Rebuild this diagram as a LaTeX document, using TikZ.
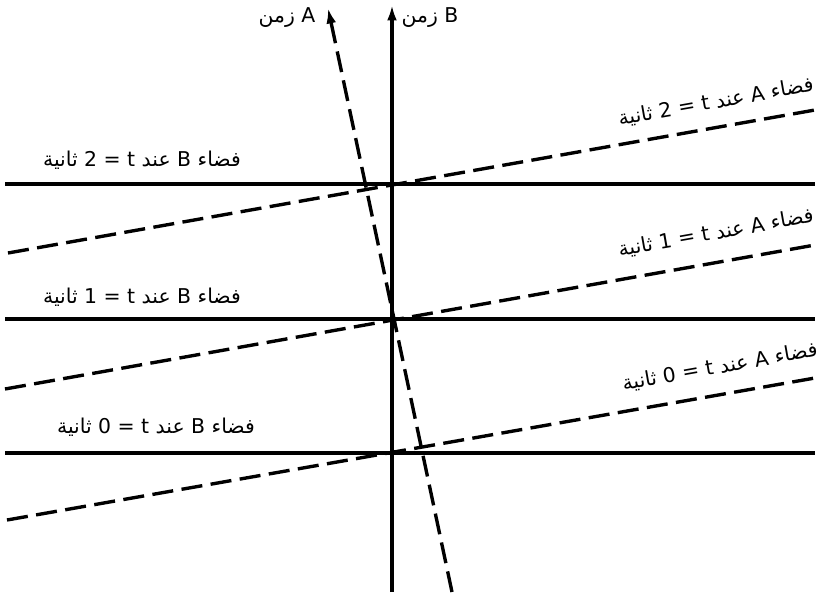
\documentclass[tikz,border=0pt]{standalone}
\usepackage{fontspec}
\usepackage{tikz}
\usetikzlibrary{arrows.meta}
\newfontfamily\arabicfont[Script=Arabic]{DejaVu Sans}
\TeXXeTstate=1

\begin{document}
\begin{tikzpicture}[
      x=0.025cm, y=-0.025cm,
      font=\fontsize{14.5}{17}\selectfont\arabicfont,
      solidline/.style={line width=2.3pt},
      dashline/.style={line width=2.4pt, dash pattern=on 15pt off 6pt},
      axistip/.style={-{Latex[length=11pt, width=7pt]}},
      lbl/.style={inner sep=1pt}
    ]
    \useasboundingbox (0,0) rectangle (831,599);
    % time axes
    \coordinate (Bbot) at (392,592);
    \coordinate (Btop) at (392,5);
    \coordinate (Abot) at (452,592);
    \coordinate (Atop) at (328,8);
    \draw[solidline, axistip] (Bbot) -- (Btop);
    \draw[dashline, axistip] (Abot) -- (Atop);
    \node[lbl] (Blabel) at (430,18) {\beginR B زمن\endR};
    \node[lbl] (Alabel) at (287,18) {\beginR A زمن\endR};
    % space of B
    \coordinate (Btwo-l) at (5,184);   \coordinate (Btwo-r) at (815,184);
    \coordinate (Bone-l) at (5,319);   \coordinate (Bone-r) at (815,319);
    \coordinate (Bzero-l) at (5,453);  \coordinate (Bzero-r) at (815,453);
    \draw[solidline] (Btwo-l) -- (Btwo-r);
    \draw[solidline] (Bone-l) -- (Bone-r);
    \draw[solidline] (Bzero-l) -- (Bzero-r);
    \node[lbl] (Btwo) at (142,160) {\beginR فضاء B عند t = 2 ثانية\endR};
    \node[lbl] (Bone) at (142,297) {\beginR فضاء B عند t = 1 ثانية\endR};
    \node[lbl] (Bzero) at (156,427) {\beginR فضاء B عند t = 0 ثانية\endR};
    % space of A
    \coordinate (Atwo-l) at (8,253);   \coordinate (Atwo-r) at (815,110);
    \coordinate (Aone-l) at (5,389);   \coordinate (Aone-r) at (815,245);
    \coordinate (Azero-l) at (7,520);  \coordinate (Azero-r) at (815,378);
    \draw[dashline] (Atwo-l) -- (Atwo-r);
    \draw[dashline] (Aone-l) -- (Aone-r);
    \draw[dashline] (Azero-l) -- (Azero-r);
    \node[lbl, rotate=10] (Atwo) at (716,102) {\beginR فضاء A عند t = 2 ثانية\endR};
    \node[lbl, rotate=10] (Aone) at (716,233) {\beginR فضاء A عند t = 1 ثانية\endR};
    \node[lbl, rotate=10] (Azero) at (720,367) {\beginR فضاء A عند t = 0 ثانية\endR};
  \end{tikzpicture}
\end{document}
